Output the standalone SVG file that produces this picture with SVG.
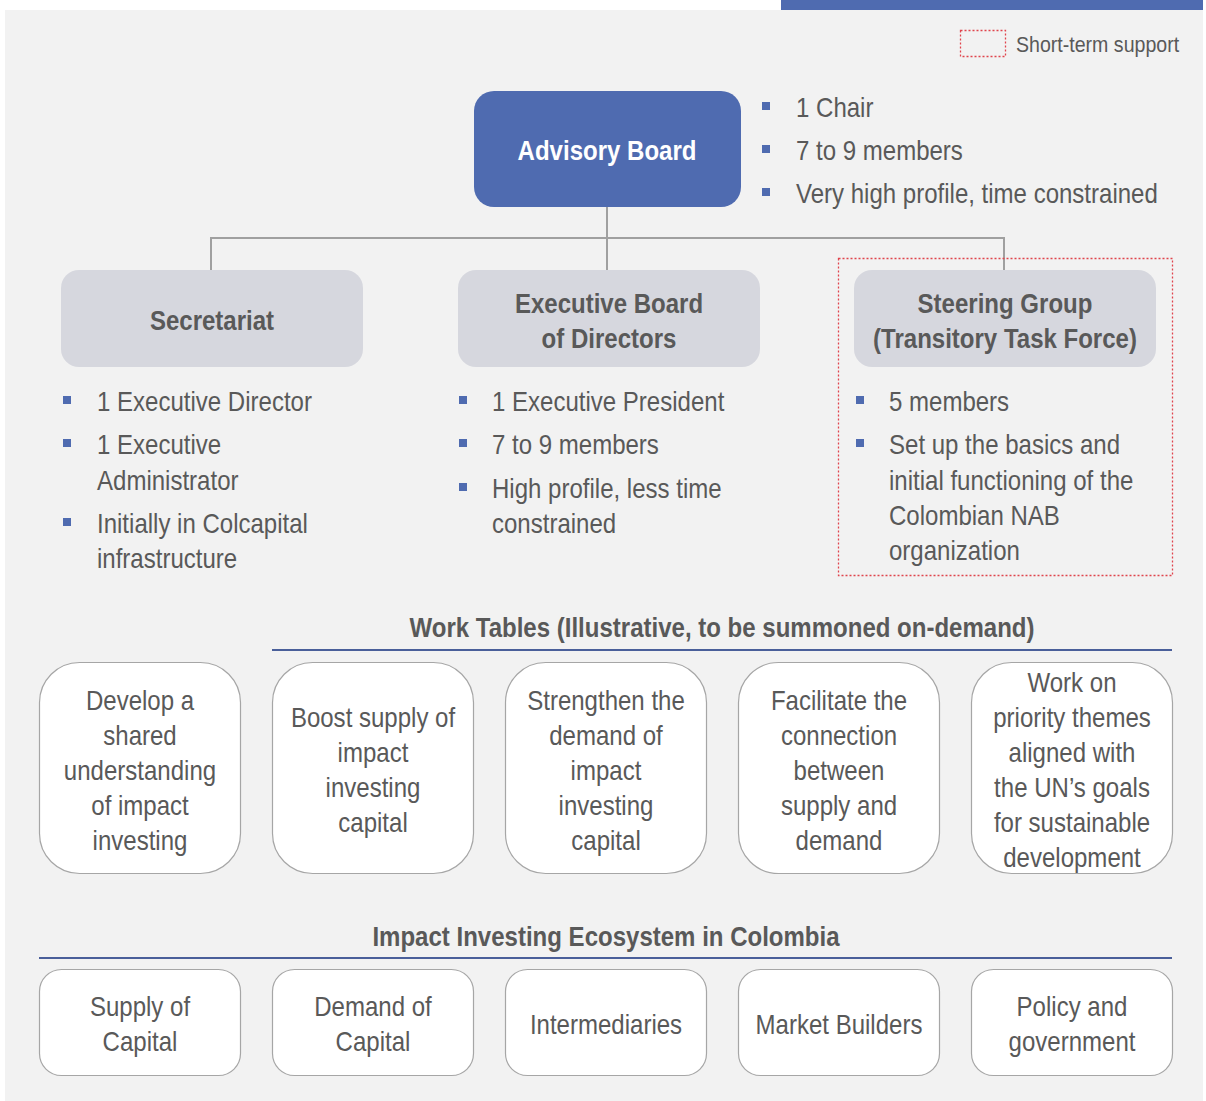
<svg xmlns="http://www.w3.org/2000/svg" width="1206" height="1101" viewBox="0 0 1206 1101">
<style>
text{font-family:"Liberation Sans",Arial,sans-serif;fill:#595959;font-size:27px}
.c{text-anchor:middle;dominant-baseline:central}
.b{font-weight:bold}
.l{dominant-baseline:central}
.bul{fill:#4f6bb0}
.gb{fill:#d6d7de}
.wt{fill:#ffffff;stroke:#a6a6a6;stroke-width:1.2}
.hl{stroke:#4a5f9a;stroke-width:2}
.conn{stroke:#a0a0a0;stroke-width:2;fill:none}
.dot{fill:none;stroke:#e0444d;stroke-width:1.3;stroke-dasharray:2 2}
</style>
<rect x="0" y="0" width="1206" height="1101" fill="#ffffff"/>
<rect x="5" y="10" width="1198" height="1091" fill="#f2f2f2"/>
<rect x="781" y="0" width="422" height="10" fill="#4f6bb0"/>

<g id="legend">
<rect class="dot" x="960.5" y="30.5" width="45" height="26"/>
<text class="l" transform="translate(1016 44) scale(.89 1)" style="font-size:22px">Short-term support</text>
</g>

<g id="connectors">
<path class="conn" d="M607 207 V270 M211 270 V238 H1004 V270"/>
</g>

<g id="advisory-board">
<rect x="474" y="91" width="267" height="116" rx="20" fill="#4f6bb0"/>
<text class="c b" transform="translate(607 150) scale(.89 1)" style="fill:#ffffff">Advisory Board</text>
<rect class="bul" x="762" y="102" width="8" height="8"/>
<rect class="bul" x="762" y="145" width="8" height="8"/>
<rect class="bul" x="762" y="188" width="8" height="8"/>
<text class="l" transform="translate(796 107) scale(.89 1)">1 Chair</text>
<text class="l" transform="translate(796 150) scale(.89 1)">7 to 9 members</text>
<text class="l" transform="translate(796 193) scale(.89 1)">Very high profile, time constrained</text>
</g>

<g id="secretariat">
<rect class="gb" x="61" y="270" width="302" height="97" rx="18"/>
<text class="c b" transform="translate(212 320) scale(.89 1)">Secretariat</text>
<rect class="bul" x="63" y="396" width="8" height="8"/>
<rect class="bul" x="63" y="439" width="8" height="8"/>
<rect class="bul" x="63" y="518" width="8" height="8"/>
<text class="l" transform="translate(97 401) scale(.89 1)">1 Executive Director</text>
<text class="l" transform="translate(97 444) scale(.89 1)">1 Executive</text>
<text class="l" transform="translate(97 480) scale(.89 1)">Administrator</text>
<text class="l" transform="translate(97 523) scale(.89 1)">Initially in Colcapital</text>
<text class="l" transform="translate(97 558) scale(.89 1)">infrastructure</text>
</g>

<g id="executive-board">
<rect class="gb" x="458" y="270" width="302" height="97" rx="18"/>
<text class="c b" transform="translate(609 303) scale(.89 1)">Executive Board</text>
<text class="c b" transform="translate(609 338) scale(.89 1)">of Directors</text>
<rect class="bul" x="459" y="396" width="8" height="8"/>
<rect class="bul" x="459" y="439" width="8" height="8"/>
<rect class="bul" x="459" y="483" width="8" height="8"/>
<text class="l" transform="translate(492 401) scale(.89 1)">1 Executive President</text>
<text class="l" transform="translate(492 444) scale(.89 1)">7 to 9 members</text>
<text class="l" transform="translate(492 488) scale(.89 1)">High profile, less time</text>
<text class="l" transform="translate(492 523) scale(.89 1)">constrained</text>
</g>

<g id="steering-group">
<rect class="dot" x="838.5" y="258.5" width="334" height="317"/>
<rect class="gb" x="854" y="270" width="302" height="97" rx="18"/>
<text class="c b" transform="translate(1005 303) scale(.89 1)">Steering Group</text>
<text class="c b" transform="translate(1005 338) scale(.89 1)">(Transitory Task Force)</text>
<rect class="bul" x="856" y="396" width="8" height="8"/>
<rect class="bul" x="856" y="439" width="8" height="8"/>
<text class="l" transform="translate(889 401) scale(.89 1)">5 members</text>
<text class="l" transform="translate(889 444) scale(.89 1)">Set up the basics and</text>
<text class="l" transform="translate(889 480) scale(.89 1)">initial functioning of the</text>
<text class="l" transform="translate(889 515) scale(.89 1)">Colombian NAB</text>
<text class="l" transform="translate(889 550) scale(.89 1)">organization</text>
</g>

<g id="work-tables-header">
<text class="c b" transform="translate(722 627) scale(.89 1)">Work Tables (Illustrative, to be summoned on-demand)</text>
<line class="hl" x1="272" y1="650" x2="1172" y2="650"/>
</g>

<g id="wt1">
<rect class="wt" x="39.5" y="662.5" width="201" height="211" rx="40"/>
<text class="c" transform="translate(140 700) scale(.89 1)">Develop a</text>
<text class="c" transform="translate(140 735) scale(.89 1)">shared</text>
<text class="c" transform="translate(140 770) scale(.89 1)">understanding</text>
<text class="c" transform="translate(140 805) scale(.89 1)">of impact</text>
<text class="c" transform="translate(140 840) scale(.89 1)">investing</text>
</g>
<g id="wt2">
<rect class="wt" x="272.5" y="662.5" width="201" height="211" rx="40"/>
<text class="c" transform="translate(373 717) scale(.89 1)">Boost supply of</text>
<text class="c" transform="translate(373 752) scale(.89 1)">impact</text>
<text class="c" transform="translate(373 787) scale(.89 1)">investing</text>
<text class="c" transform="translate(373 822) scale(.89 1)">capital</text>
</g>
<g id="wt3">
<rect class="wt" x="505.5" y="662.5" width="201" height="211" rx="40"/>
<text class="c" transform="translate(606 700) scale(.89 1)">Strengthen the</text>
<text class="c" transform="translate(606 735) scale(.89 1)">demand of</text>
<text class="c" transform="translate(606 770) scale(.89 1)">impact</text>
<text class="c" transform="translate(606 805) scale(.89 1)">investing</text>
<text class="c" transform="translate(606 840) scale(.89 1)">capital</text>
</g>
<g id="wt4">
<rect class="wt" x="738.5" y="662.5" width="201" height="211" rx="40"/>
<text class="c" transform="translate(839 700) scale(.89 1)">Facilitate the</text>
<text class="c" transform="translate(839 735) scale(.89 1)">connection</text>
<text class="c" transform="translate(839 770) scale(.89 1)">between</text>
<text class="c" transform="translate(839 805) scale(.89 1)">supply and</text>
<text class="c" transform="translate(839 840) scale(.89 1)">demand</text>
</g>
<g id="wt5">
<rect class="wt" x="971.5" y="662.5" width="201" height="211" rx="40"/>
<text class="c" transform="translate(1072 682) scale(.89 1)">Work on</text>
<text class="c" transform="translate(1072 717) scale(.89 1)">priority themes</text>
<text class="c" transform="translate(1072 752) scale(.89 1)">aligned with</text>
<text class="c" transform="translate(1072 787) scale(.89 1)">the UN’s goals</text>
<text class="c" transform="translate(1072 822) scale(.89 1)">for sustainable</text>
<text class="c" transform="translate(1072 857) scale(.89 1)">development</text>
</g>

<g id="ecosystem-header">
<text class="c b" transform="translate(606 936) scale(.89 1)">Impact Investing Ecosystem in Colombia</text>
<line class="hl" x1="39" y1="958" x2="1172" y2="958"/>
</g>

<g id="eco1">
<rect class="wt" x="39.5" y="969.5" width="201" height="106" rx="22"/>
<text class="c" transform="translate(140 1006) scale(.89 1)">Supply of</text>
<text class="c" transform="translate(140 1041) scale(.89 1)">Capital</text>
</g>
<g id="eco2">
<rect class="wt" x="272.5" y="969.5" width="201" height="106" rx="22"/>
<text class="c" transform="translate(373 1006) scale(.89 1)">Demand of</text>
<text class="c" transform="translate(373 1041) scale(.89 1)">Capital</text>
</g>
<g id="eco3">
<rect class="wt" x="505.5" y="969.5" width="201" height="106" rx="22"/>
<text class="c" transform="translate(606 1024) scale(.89 1)">Intermediaries</text>
</g>
<g id="eco4">
<rect class="wt" x="738.5" y="969.5" width="201" height="106" rx="22"/>
<text class="c" transform="translate(839 1024) scale(.89 1)">Market Builders</text>
</g>
<g id="eco5">
<rect class="wt" x="971.5" y="969.5" width="201" height="106" rx="22"/>
<text class="c" transform="translate(1072 1006) scale(.89 1)">Policy and</text>
<text class="c" transform="translate(1072 1041) scale(.89 1)">government</text>
</g>
</svg>
